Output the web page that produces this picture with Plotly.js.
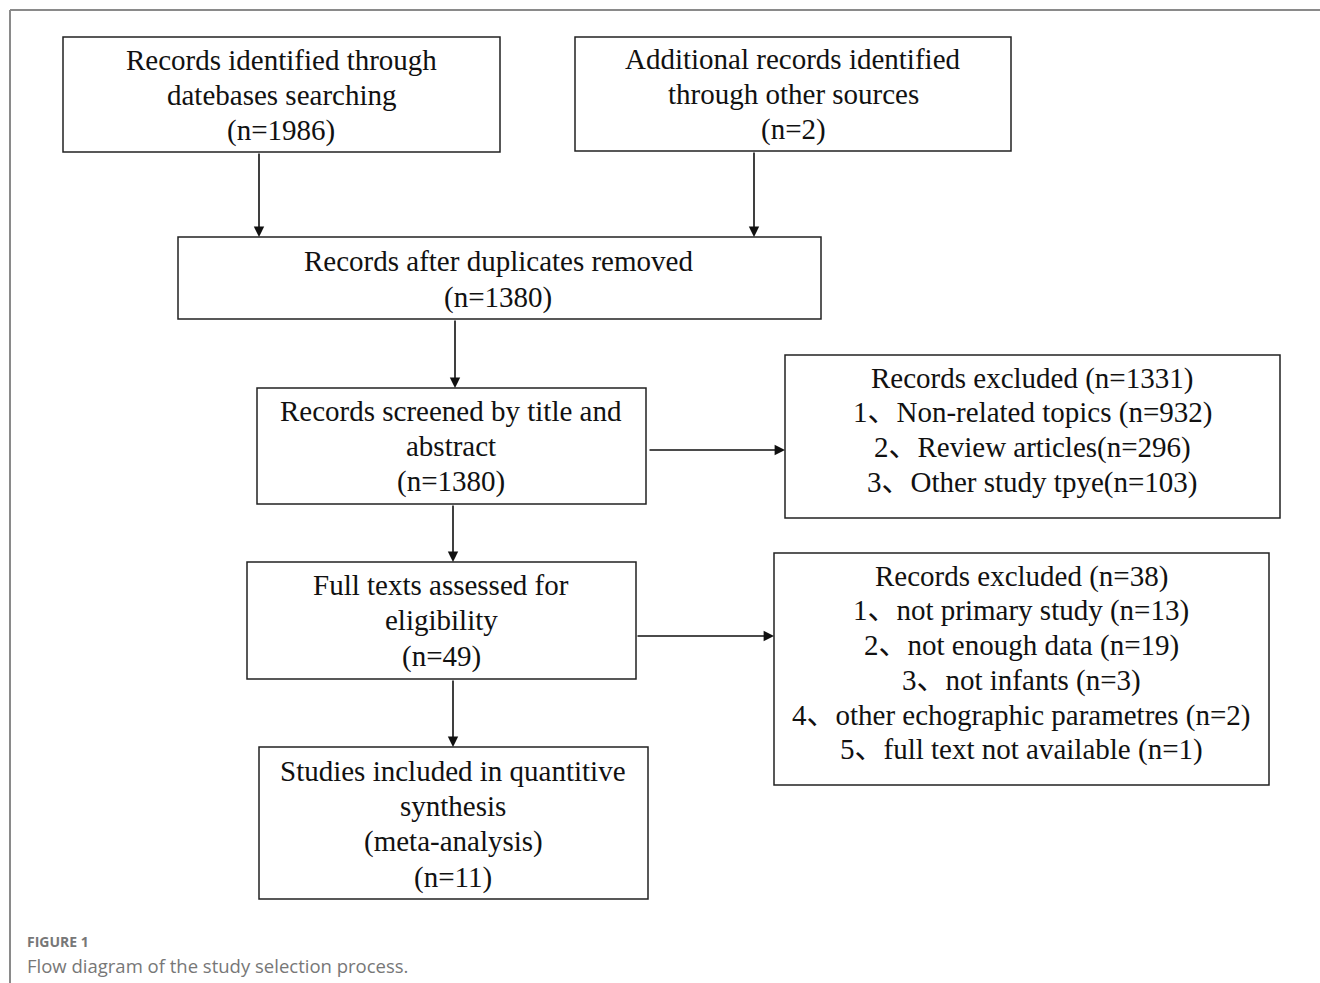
<!DOCTYPE html>
<html>
<head>
<meta charset="utf-8">
<script src="https://cdn.plot.ly/plotly-3.0.1.min.js"></script>
<style>html,body{margin:0;padding:0;background:#fff;}#chart{width:1320px;height:983px;}</style>
</head>
<body>
<div id="chart"></div>
<script>
// ---- content (text) ----
const identifiedLines = ["Records identified through", "datebases searching", "(n=1986)"];
const additionalLines = ["Additional records identified", "through other sources", "(n=2)"];
const dedupLines = ["Records after duplicates removed", "(n=1380)"];
const screenedLines = ["Records screened by title and", "abstract", "(n=1380)"];
const excluded1Lines = ["Records excluded (n=1331)", "1、Non-related topics (n=932)", "2、Review articles(n=296)", "3、Other study tpye(n=103)"];
const fulltextLines = ["Full texts assessed for", "eligibility", "(n=49)"];
const excluded2Lines = ["Records excluded (n=38)", "1、not primary study (n=13)", "2、not enough data (n=19)", "3、not infants (n=3)", "4、other echographic parametres (n=2)", "5、full text not available (n=1)"];
const includedLines = ["Studies included in quantitive", "synthesis", "(meta-analysis)", "(n=11)"];
const captionLabel = "FIGURE 1";
const captionText = "Flow diagram of the study selection process.";

// ---- geometry (pixel layout) ----
const boxes = [
  {lines: identifiedLines, x0: 63, x1: 500, y0: 37, y1: 152, cx: 281, ly: [60, 95, 130]},
  {lines: additionalLines, x0: 575, x1: 1011, y0: 37, y1: 151, cx: 793, ly: [59, 94, 129]},
  {lines: dedupLines, x0: 178, x1: 821, y0: 237, y1: 319, cx: 498, ly: [261, 297]},
  {lines: screenedLines, x0: 257, x1: 646, y0: 388, y1: 504, cx: 451, ly: [411, 446, 481]},
  {lines: excluded1Lines, x0: 785, x1: 1280, y0: 355, y1: 518, cx: 1032, ly: [378, 412, 447, 482]},
  {lines: fulltextLines, x0: 247, x1: 636, y0: 562, y1: 679, cx: 441, ly: [585, 620, 656]},
  {lines: excluded2Lines, x0: 774, x1: 1269, y0: 553, y1: 785, cx: 1021, ly: [576, 610, 645, 680, 715, 749]},
  {lines: includedLines, x0: 259, x1: 648, y0: 747, y1: 899, cx: 453, ly: [771, 806, 841, 877]}
];
const arrows = [
  {x0: 259, y0: 152, x1: 259, y1: 237},
  {x0: 754, y0: 151, x1: 754, y1: 237},
  {x0: 455, y0: 319, x1: 455, y1: 388},
  {x0: 453, y0: 504, x1: 453, y1: 562},
  {x0: 648, y0: 450, x1: 785, y1: 450},
  {x0: 453, y0: 679, x1: 453, y1: 747},
  {x0: 636, y0: 636, x1: 774, y1: 636}
];

const shapes = [];
const annotations = [];
const serif = {family: "Liberation Serif, 'Times New Roman', 'Noto Sans CJK SC', serif", size: 29, color: "#111"};

// outer frame
shapes.push({type: "line", xref: "x", yref: "y", x0: 10, y0: 10, x1: 1320, y1: 10, line: {color: "#8a8a8a", width: 2}});
shapes.push({type: "line", xref: "x", yref: "y", x0: 10, y0: 10, x1: 10, y1: 983, line: {color: "#8a8a8a", width: 2}});

boxes.forEach(b => {
  shapes.push({type: "rect", xref: "x", yref: "y", x0: b.x0, y0: b.y0, x1: b.x1, y1: b.y1,
    line: {color: "#222", width: 1.5}, fillcolor: "rgba(0,0,0,0)"});
  b.lines.forEach((t, i) => {
    annotations.push({x: b.cx, y: b.ly[i], xref: "x", yref: "y", text: t, showarrow: false,
      xanchor: "center", yanchor: "middle", font: serif});
  });
});

arrows.forEach(a => {
  annotations.push({x: a.x1, y: a.y1, ax: a.x0, ay: a.y0, xref: "x", yref: "y", axref: "x", ayref: "y",
    text: "", showarrow: true, arrowhead: 2, arrowsize: 1.3, arrowwidth: 1.6, arrowcolor: "#111", standoff: 0});
});

annotations.push({x: 25, y: 941, xref: "x", yref: "y", text: "<b>" + captionLabel + "</b>", showarrow: false,
  xanchor: "left", yanchor: "middle", font: {family: "Open Sans, sans-serif", size: 14, color: "#777"}});
annotations.push({x: 25, y: 965, xref: "x", yref: "y", text: captionText, showarrow: false,
  xanchor: "left", yanchor: "middle", font: {family: "Open Sans, sans-serif", size: 18.5, color: "#777"}});

const layout = {
  width: 1320, height: 983,
  margin: {l: 0, r: 0, t: 0, b: 0},
  paper_bgcolor: "#fff", plot_bgcolor: "#fff",
  xaxis: {range: [0, 1320], visible: false, fixedrange: true},
  yaxis: {range: [983, 0], visible: false, fixedrange: true},
  shapes: shapes,
  annotations: annotations,
  showlegend: false
};

Plotly.newPlot("chart", [{x: [], y: [], type: "scatter", mode: "markers"}], layout, {staticPlot: true, displayModeBar: false});
</script>
</body>
</html>
